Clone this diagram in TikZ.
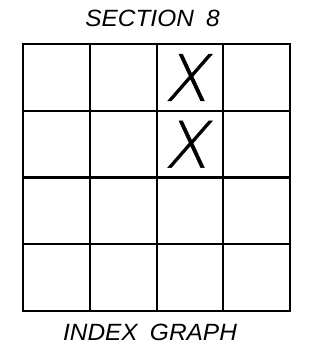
\documentclass[tikz,border=0pt]{standalone}
\usepackage{fontspec}
\setsansfont{Liberation Sans}
\newfontfamily\markfont[FakeSlant=0.2, FakeBold=0.8]{DejaVu Sans ExtraLight}
\usetikzlibrary{positioning}

\begin{document}
\begin{tikzpicture}[x=1pt, y=1pt]
\tikzset{
    cell/.style={
        draw, line width=2.2pt, minimum size=66.75pt, inner sep=0pt,
        anchor=north west,
    },
    caption/.style={
        font=\sffamily\itshape\fontsize{23.5}{25}\selectfont,
        anchor=base, inner sep=0pt, xscale=1.04,
    },
    crossmark/.style={
        font=\markfont\fontsize{64}{64}\selectfont, inner sep=0pt,
        xshift=-4pt,
    },
}
\useasboundingbox (0,0) rectangle (324,347);

% 4 x 4 index grid, cells named c-row-col
\foreach \r in {1,...,4}
    \foreach \c in {1,...,4}
        \node[cell] (c-\r-\c) at ({22+(\c-1)*66.75},{304-(\r-1)*66.75}) {};

\node[crossmark] (x-1) at (c-1-3) {X};
\node[crossmark] (x-2) at (c-2-3) {X};

\node[caption] (title) at (152.5,320) {SECTION\hspace{0.5em}8};
\node[caption] (footer) at (150,6) {INDEX\hspace{0.5em}GRAPH};

\end{tikzpicture}
\end{document}
